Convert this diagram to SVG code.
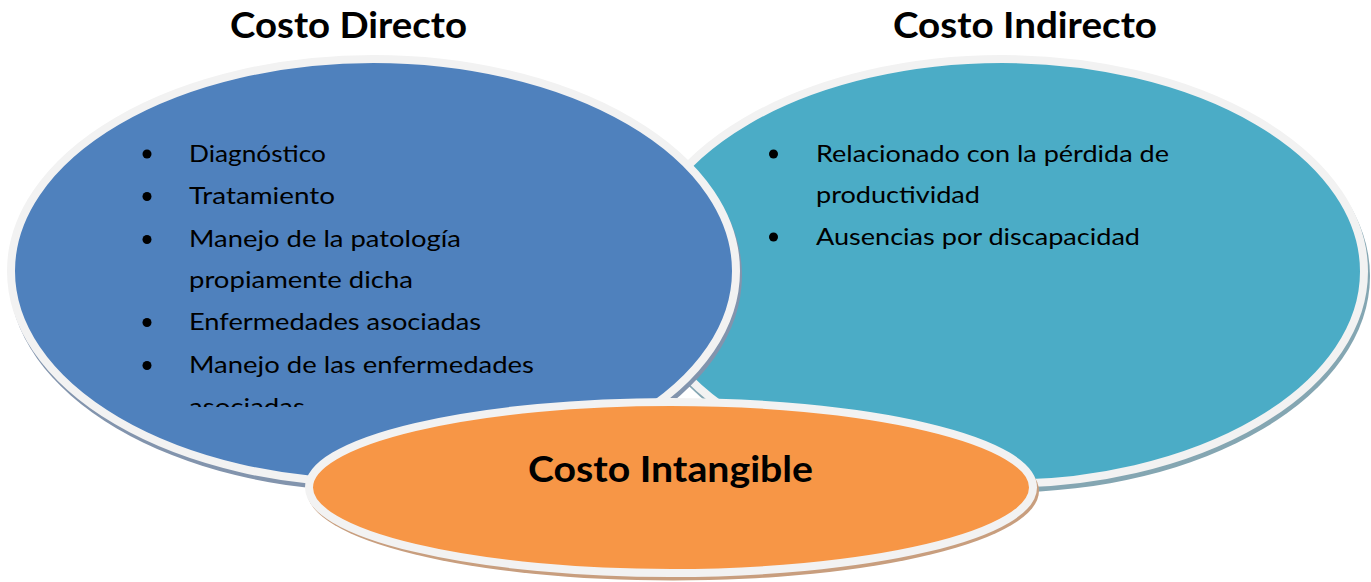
<svg xmlns="http://www.w3.org/2000/svg" width="1371" height="582" viewBox="0 0 1371 582">
  <style>
    .title { font-family: Lato, "Liberation Sans", sans-serif; font-weight: bold; font-size: 37px; fill: #000; }
    .item { font-family: Lato, "Liberation Sans", sans-serif; font-size: 24px; fill: #000; }
    .bullet { fill: #000; }
    .ring { stroke: #f2f2f2; stroke-width: 8; }
  </style>
  <defs>
    <filter id="soft" x="-5%" y="-5%" width="110%" height="115%">
      <feGaussianBlur stdDeviation="0.7"/>
    </filter>
    <clipPath id="leftClip">
      <rect x="0" y="100" width="760" height="307"/>
    </clipPath>
  </defs>
  <rect width="1371" height="582" fill="#ffffff"/>

  <text class="title" x="230" y="38" textLength="237" lengthAdjust="spacingAndGlyphs">Costo Directo</text>
  <text class="title" x="893" y="38" textLength="264" lengthAdjust="spacingAndGlyphs">Costo Indirecto</text>

  <g id="costo-indirecto">
    <ellipse cx="1004" cy="276" rx="366" ry="216.5" fill="#84a6b2" filter="url(#soft)"/>
    <ellipse class="ring" cx="1002" cy="271.5" rx="362" ry="212.5" fill="#4bacc6"/>
    <circle class="bullet" cx="773.5" cy="154" r="4.5"/>
    <text class="item" x="816" y="161.7" textLength="353" lengthAdjust="spacingAndGlyphs">Relacionado con la pérdida de</text>
    <text class="item" x="816" y="202.5" textLength="164" lengthAdjust="spacingAndGlyphs">productividad</text>
    <circle class="bullet" cx="773.5" cy="237" r="4.5"/>
    <text class="item" x="816" y="245" textLength="324" lengthAdjust="spacingAndGlyphs">Ausencias por discapacidad</text>
  </g>

  <g id="costo-directo">
    <ellipse cx="375.5" cy="275.5" rx="366.5" ry="216" fill="#8294ad" filter="url(#soft)"/>
    <ellipse class="ring" cx="373.5" cy="271" rx="362.5" ry="212" fill="#4f81bd"/>
    <g clip-path="url(#leftClip)">
      <circle class="bullet" cx="147" cy="154" r="4.5"/>
      <text class="item" x="189" y="161.7" textLength="137" lengthAdjust="spacingAndGlyphs">Diagnóstico</text>
      <circle class="bullet" cx="147" cy="196.5" r="4.5"/>
      <text class="item" x="189" y="204" textLength="146" lengthAdjust="spacingAndGlyphs">Tratamiento</text>
      <circle class="bullet" cx="147" cy="239.5" r="4.5"/>
      <text class="item" x="189" y="247" textLength="272" lengthAdjust="spacingAndGlyphs">Manejo de la patología</text>
      <text class="item" x="189" y="287.5" textLength="224" lengthAdjust="spacingAndGlyphs">propiamente dicha</text>
      <circle class="bullet" cx="147" cy="322.5" r="4.5"/>
      <text class="item" x="189" y="330" textLength="292" lengthAdjust="spacingAndGlyphs">Enfermedades asociadas</text>
      <circle class="bullet" cx="147" cy="365.5" r="4.5"/>
      <text class="item" x="189" y="373" textLength="345" lengthAdjust="spacingAndGlyphs">Manejo de las enfermedades</text>
      <text class="item" x="189" y="415" textLength="116" lengthAdjust="spacingAndGlyphs">asociadas</text>
    </g>
  </g>

  <g id="costo-intangible">
    <ellipse cx="673" cy="491" rx="366" ry="89.5" fill="#c89e7e" filter="url(#soft)"/>
    <ellipse class="ring" cx="671" cy="487.5" rx="362" ry="85.5" fill="#f79646"/>
    <text class="title" x="528" y="482" textLength="285" lengthAdjust="spacingAndGlyphs">Costo Intangible</text>
  </g>

  <g id="connectors"/>
</svg>
